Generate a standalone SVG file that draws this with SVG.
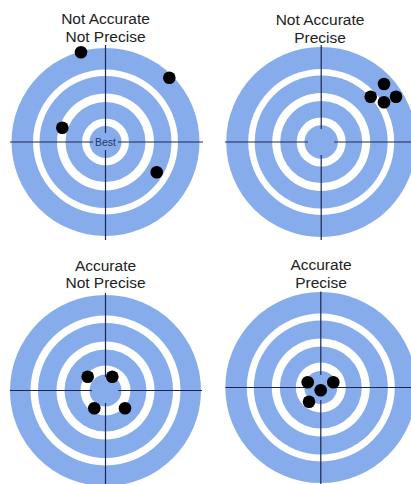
<svg xmlns="http://www.w3.org/2000/svg" width="411" height="484" viewBox="0 0 411 484">
<style>
.b{fill:#86acec}
.w{fill:#ffffff}
.ax{stroke:#1c2650;stroke-width:1.2;fill:none}
.shot{fill:#000000}
.title{font-family:"Liberation Sans",Arial,sans-serif;font-size:15.5px;fill:#222222;text-anchor:middle}
.best{font-family:"Liberation Sans",Arial,sans-serif;font-size:10.5px;fill:#27356a;text-anchor:middle}
</style>
<rect width="411" height="484" fill="#ffffff"/>

<g id="target-not-accurate-not-precise">
<text class="title" x="105.5" y="24">Not Accurate</text>
<text class="title" x="105.5" y="42.3">Not Precise</text>
<circle class="b" cx="105.5" cy="142" r="94"/>
<circle class="w" cx="105.5" cy="142" r="72.5"/>
<circle class="b" cx="105.5" cy="142" r="66"/>
<circle class="w" cx="105.5" cy="142" r="48.5"/>
<circle class="b" cx="105.5" cy="142" r="40"/>
<circle class="w" cx="105.5" cy="142" r="23.5"/>
<circle class="b" cx="105.5" cy="142" r="16"/>
<path class="ax" d="M10 142H93M118 142H203M105.5 45V133M105.5 150V240"/>
<text class="best" x="105.5" y="145.5">Best</text>
<circle class="shot" cx="81" cy="52.3" r="6.3"/>
<circle class="shot" cx="169.3" cy="77.7" r="6.3"/>
<circle class="shot" cx="62.3" cy="127.7" r="6.3"/>
<circle class="shot" cx="156.7" cy="172.3" r="6.3"/>
</g>

<g id="target-not-accurate-precise">
<text class="title" x="320" y="25">Not Accurate</text>
<text class="title" x="320" y="42.7">Precise</text>
<circle class="b" cx="321.2" cy="142" r="95"/>
<circle class="w" cx="321.2" cy="142" r="73"/>
<circle class="b" cx="321.2" cy="142" r="66.5"/>
<circle class="w" cx="321.2" cy="142" r="49"/>
<circle class="b" cx="321.2" cy="142" r="41"/>
<circle class="w" cx="321.2" cy="142" r="24.5"/>
<circle class="b" cx="321.2" cy="142" r="16.7"/>
<path class="ax" d="M225 142H308M334 142H411M321.2 45V129M321.2 155V240"/>
<circle class="shot" cx="384" cy="84" r="6.3"/>
<circle class="shot" cx="370.7" cy="96.7" r="6.3"/>
<circle class="shot" cx="396" cy="96.7" r="6.3"/>
<circle class="shot" cx="384" cy="102.3" r="6.3"/>
</g>

<g id="target-accurate-not-precise">
<text class="title" x="105.5" y="270.7">Accurate</text>
<text class="title" x="105.5" y="288.3">Not Precise</text>
<circle class="b" cx="105.5" cy="390.5" r="95.5"/>
<circle class="w" cx="105.5" cy="390.5" r="75"/>
<circle class="b" cx="105.5" cy="390.5" r="67.5"/>
<circle class="w" cx="105.5" cy="390.5" r="49"/>
<circle class="b" cx="105.5" cy="390.5" r="41"/>
<circle class="w" cx="105.5" cy="390.5" r="25"/>
<circle class="b" cx="105.5" cy="390.5" r="16"/>
<path class="ax" d="M10 390.5H92M118 390.5H202M105.5 293V377M105.5 403V484"/>
<circle class="shot" cx="87.7" cy="376.7" r="6.3"/>
<circle class="shot" cx="112.3" cy="376.7" r="6.3"/>
<circle class="shot" cx="94.3" cy="408.3" r="6.3"/>
<circle class="shot" cx="125" cy="408.3" r="6.3"/>
</g>

<g id="target-accurate-precise">
<text class="title" x="321" y="270">Accurate</text>
<text class="title" x="321" y="287.7">Precise</text>
<circle class="b" cx="320.8" cy="387.5" r="95.5"/>
<circle class="w" cx="320.8" cy="387.5" r="74"/>
<circle class="b" cx="320.8" cy="387.5" r="67"/>
<circle class="w" cx="320.8" cy="387.5" r="49"/>
<circle class="b" cx="320.8" cy="387.5" r="41"/>
<circle class="w" cx="320.8" cy="387.5" r="25"/>
<circle class="b" cx="320.8" cy="387.5" r="16.5"/>
<path class="ax" d="M225.5 387.5H308M334 387.5H411M320.8 291.5V375M320.8 400V484"/>
<circle class="shot" cx="307.7" cy="382.3" r="6.3"/>
<circle class="shot" cx="333.3" cy="382.3" r="6.3"/>
<circle class="shot" cx="320.7" cy="390.3" r="6.3"/>
<circle class="shot" cx="309" cy="401.7" r="6.3"/>
</g>
</svg>
